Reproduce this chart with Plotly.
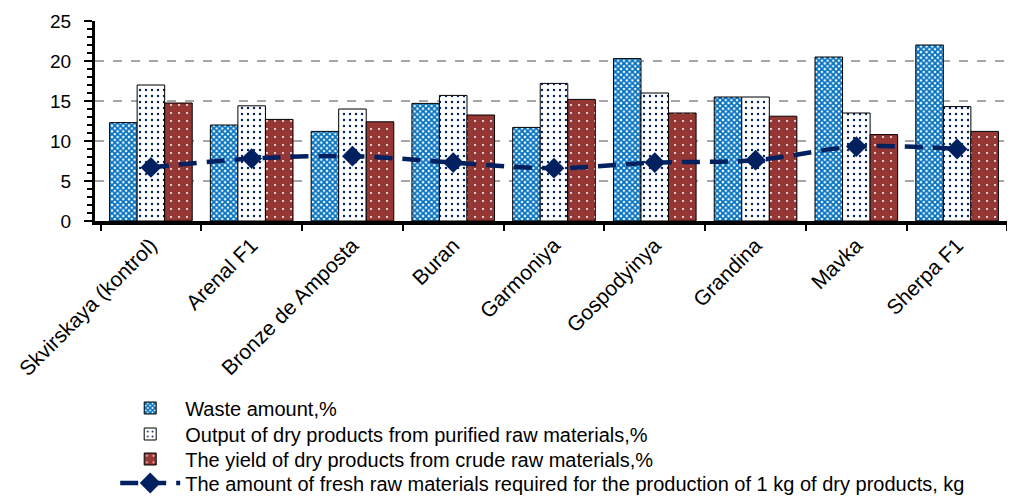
import plotly.graph_objects as go

categories = ["Skvirskaya (kontrol)", "Arenal F1", "Bronze de Amposta", "Buran", "Garmoniya",
              "Gospodyinya", "Grandina", "Mavka", "Sherpa F1"]
waste = [12.3, 12.0, 11.2, 14.7, 11.7, 20.3, 15.5, 20.5, 22.0]
dry_purified = [17.0, 14.4, 14.0, 15.7, 17.2, 16.0, 15.5, 13.5, 14.3]
dry_crude = [14.75, 12.7, 12.4, 13.25, 15.2, 13.5, 13.1, 10.8, 11.2]
fresh_per_kg = [6.7, 7.8, 8.1, 7.3, 6.6, 7.3, 7.6, 9.3, 9.0]

names = ["Waste amount,%",
         "Output of dry products from purified raw materials,%",
         "The yield of dry products from crude raw materials,%",
         "The amount of fresh raw materials required for the production of 1 kg of dry products, kg"]

FONT = "Liberation Sans, Arial, sans-serif"

fig = go.Figure()
fig.add_trace(go.Bar(
    x=categories, y=waste, name=names[0], legend="legend",
    marker=dict(color="white", line=dict(color="black", width=1),
                pattern=dict(shape="x", fgcolor="#0070C0", bgcolor="white",
                             size=4, solidity=0.7, fillmode="replace")),
))
fig.add_trace(go.Bar(
    x=categories, y=dry_purified, name=names[1], legend="legend2",
    marker=dict(color="white", line=dict(color="black", width=1),
                pattern=dict(shape=".", fgcolor="#002060", bgcolor="white",
                             size=6, solidity=0.12, fillmode="replace")),
))
fig.add_trace(go.Bar(
    x=categories, y=dry_crude, name=names[2], legend="legend3",
    marker=dict(color="#953735", line=dict(color="black", width=1),
                pattern=dict(shape=".", fgcolor="white", bgcolor="#953735",
                             size=8, solidity=0.05, fillmode="replace")),
))
fig.add_trace(go.Scatter(
    x=categories, y=fresh_per_kg, name=names[3], mode="lines+markers", legend="legend4",
    line=dict(color="#002060", width=4.5, dash="18px,10px", shape="spline"),
    marker=dict(symbol="diamond", size=16, color="#002060"),
))

def leg(y):
    return dict(orientation="v", x=0.022, xanchor="left", y=y, yanchor="middle",
                font=dict(family=FONT, size=20, color="black"),
                itemwidth=60, bgcolor="rgba(0,0,0,0)")

# page body has an 8px margin, so the figure is sized to fit the 1015x496 window
fig.update_layout(
    width=1007, height=488,
    paper_bgcolor="white", plot_bgcolor="white",
    margin=dict(l=87, r=2, t=13, b=275, autoexpand=False),
    barmode="group", bargap=0.18, bargroupgap=0,
    font=dict(family=FONT, size=20, color="black"),
    showlegend=True,
    legend=leg(-0.935), legend2=leg(-1.065), legend3=leg(-1.19), legend4=leg(-1.31),
)
fig.update_yaxes(
    range=[0, 25], dtick=5, tick0=0,
    showgrid=True, gridcolor="#A6A6A6", griddash="dash", gridwidth=1.5,
    showline=True, linecolor="black", linewidth=3,
    ticks="outside", ticklen=8, tickwidth=2, tickcolor="black",
    minor=dict(ticks="outside", dtick=1, ticklen=5, tickcolor="black", tickwidth=1.5, showgrid=False),
    tickfont=dict(family=FONT, size=19), zeroline=False, ticklabelstandoff=9,
)
fig.update_xaxes(
    showline=True, linecolor="black", linewidth=3.5,
    ticks="outside", tickson="boundaries", ticklen=6, tickwidth=2, tickcolor="black",
    tickangle=-45, tickfont=dict(family=FONT, size=21), showgrid=False,
)

fig.write_html("out.html")
